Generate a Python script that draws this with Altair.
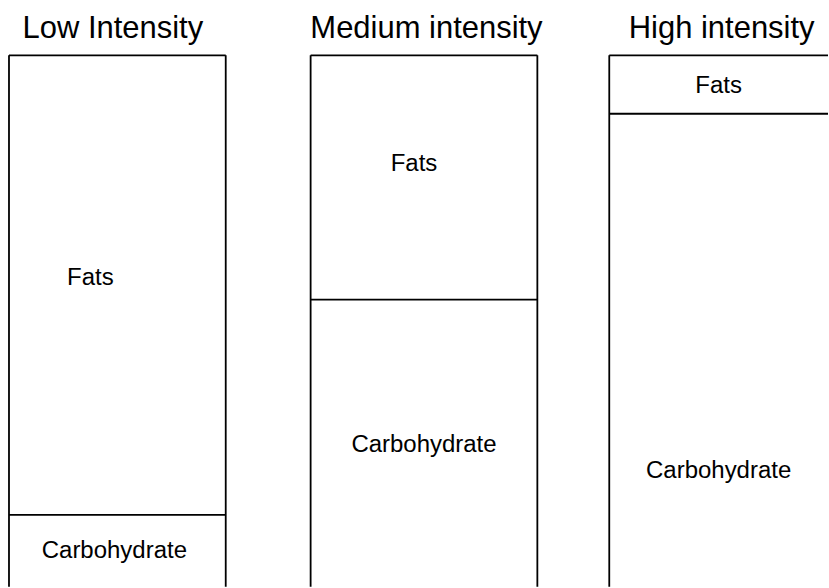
import altair as alt
import pandas as pd

# ---- data (share of energy from each fuel, %) ----
intensities = ["Low Intensity", "Medium intensity", "High intensity"]
fuels = ["Carbohydrate", "Fats"]
carbohydrate = [13.5, 54, 89]
fats = [86.5, 46, 11]

rows = []
for i, name in enumerate(intensities):
    base = 0
    for fuel, vals in (("Carbohydrate", carbohydrate), ("Fats", fats)):
        v = vals[i]
        rows.append({"intensity": name, "fuel": fuel, "value": v,
                     "y0": base, "y1": base + v, "mid": base + v / 2})
        base += v
df = pd.DataFrame(rows)

# ---- layout / style ----
FONT = "Liberation Sans"
STROKE = 1.8
panel_widths = {"Low Intensity": 230, "Medium intensity": 227, "High intensity": 219}
box_widths = {"Low Intensity": 217, "Medium intensity": 227, "High intensity": 219}
# the high-intensity box runs off the right edge of the page
right_edge = {"Low Intensity": True, "Medium intensity": True, "High intensity": False}
title_dx = {"Low Intensity": -11, "Medium intensity": 2.5, "High intensity": 3}
label_offsets = {
    ("Low Intensity", "Fats"): (-27, -7),
    ("Low Intensity", "Carbohydrate"): (-3, 0),
    ("Medium intensity", "Fats"): (-10, -14),
    ("Medium intensity", "Carbohydrate"): (0, 2),
    ("High intensity", "Fats"): (0, 1),
    ("High intensity", "Carbohydrate"): (0, 121),
}
PANEL_H = 532


def panel(name):
    d = df[df["intensity"] == name]
    base = alt.Chart(d)
    xscale = alt.Scale(paddingInner=0, paddingOuter=0, range=[0, box_widths[name]])
    yscale = alt.Scale(domain=[0, 100])
    x = alt.X("intensity:N", axis=None, scale=xscale)

    fills = base.mark_bar(fill="white").encode(
        x=x, y=alt.Y("y0:Q", axis=None, scale=yscale), y2="y1:Q"
    )
    # horizontal lines at the top of every segment (box top and divider)
    tops = base.mark_bar(fill="black", stroke="black", strokeWidth=STROKE).encode(
        x=x, y=alt.Y("y1:Q", axis=None, scale=yscale), y2="y1:Q"
    )
    one = base.transform_filter(alt.datum.fuel == "Fats")
    left = one.mark_rule(color="black", strokeWidth=STROKE).encode(
        x=alt.X("intensity:N", axis=None, scale=xscale, bandPosition=0)
    )
    layers = [fills, tops, left]
    if right_edge[name]:
        layers.append(one.mark_rule(color="black", strokeWidth=STROKE).encode(
            x=alt.X("intensity:N", axis=None, scale=xscale, bandPosition=1)
        ))
    for fuel in fuels:
        dx, dy = label_offsets[(name, fuel)]
        layers.append(
            base.transform_filter(alt.datum.fuel == fuel)
            .mark_text(font=FONT, fontSize=24, color="black", dx=dx, dy=dy)
            .encode(x=x, y=alt.Y("mid:Q", axis=None, scale=yscale), text="fuel:N")
        )
    return alt.layer(*layers).properties(
        width=panel_widths[name],
        height=PANEL_H,
        title=alt.TitleParams(name, font=FONT, fontSize=31, fontWeight="normal",
                              color="black", dx=title_dx[name], offset=9),
    )


chart = alt.hconcat(
    *(panel(n) for n in intensities),
    spacing=72,
    bounds="flush",
).properties(
    padding={"left": 8, "top": 13, "right": 0, "bottom": 0},
    background="white",
).configure_view(stroke=None)

chart.save("out.html", embed_options={"renderer": "svg", "actions": False})
